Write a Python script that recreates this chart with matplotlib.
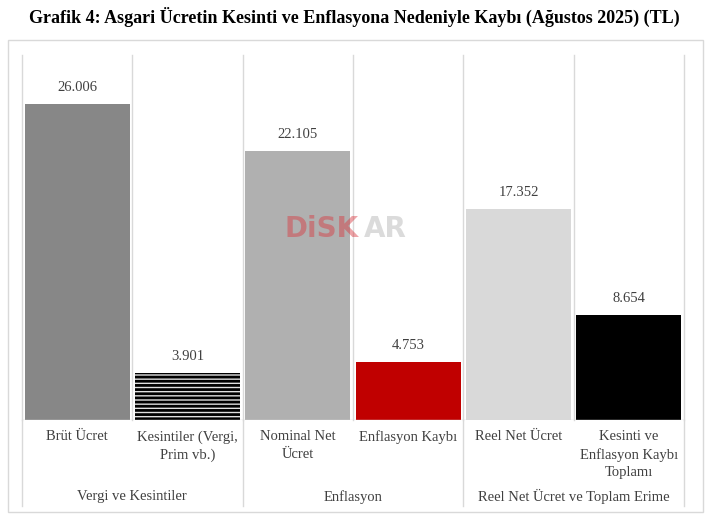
import matplotlib.pyplot as plt
from matplotlib.patches import Rectangle
from matplotlib.lines import Line2D

plt.rcParams['font.family'] = ['Liberation Serif', 'DejaVu Serif']
plt.rcParams['hatch.linewidth'] = 2.0

# data
categories = ['Brüt Ücret', 'Kesintiler (Vergi,\nPrim vb.)', 'Nominal Net\nÜcret',
              'Enflasyon Kaybı', 'Reel Net Ücret', 'Kesinti ve\nEnflasyon Kaybı\nToplamı']
values = [26006, 3901, 22105, 4753, 17352, 8654]
value_labels = ['26.006', '3.901', '22.105', '4.753', '17.352', '8.654']
groups = ['Vergi ve Kesintiler', 'Enflasyon', 'Reel Net Ücret ve Toplam Erime']

colors = ['#878787', '#e0e0e0', '#b0b0b0', '#c00000', '#d9d9d9', '#000000']
hatches = [None, '----', None, None, None, None]

fig = plt.figure(figsize=(7.07, 5.17), dpi=100)
W, H = 707, 517

# outer frame
fig.patches.append(Rectangle((8 / W, 1 - 512 / H), 695 / W, 472 / H, transform=fig.transFigure,
                             fill=False, edgecolor='#d9d9d9', linewidth=1))

fig.text(354 / W, 1 - 17 / H,
         'Grafik 4: Asgari Ücretin Kesinti ve Enflasyona Nedeniyle Kaybı (Ağustos 2025) (TL)',
         ha='center', va='center', fontsize=13, fontweight='bold', color='black')

ax = fig.add_axes([22 / W, 1 - 420 / H, 662 / W, 365 / H])
x = range(len(values))
for i in x:
    ax.bar(i, values[i], width=0.95, color=colors[i], hatch=hatches[i],
           edgecolor='black' if hatches[i] else colors[i], linewidth=0, zorder=2)
    ax.text(i, values[i] + 800, value_labels[i], ha='center', va='bottom',
            fontsize=10.5, color='#404040')

ax.set_xlim(-0.5, 5.5)
ax.set_ylim(0, 30000)
for s in ax.spines.values():
    s.set_visible(False)
ax.set_xticks([])
ax.set_yticks([])

# vertical separators
for b in [-0.5, 0.5, 1.5, 2.5, 3.5, 4.5, 5.5]:
    ax.plot([b, b], [0, 1], color='#d9d9d9', linewidth=1, transform=ax.get_xaxis_transform(),
            zorder=1, clip_on=False)
for b in [-0.5, 1.5, 3.5, 5.5]:
    ax.add_line(Line2D([b, b], [0, -0.235], color='#d9d9d9', linewidth=1,
                       transform=ax.get_xaxis_transform(), clip_on=False))
ax.axhline(0, color='#d9d9d9', linewidth=1, zorder=3)

for i, c in enumerate(categories):
    ax.text(i, -0.028, c, ha='center', va='top', fontsize=10.5, color='#404040',
            linespacing=1.45, transform=ax.get_xaxis_transform())
for g, name in enumerate(groups):
    ax.text(2 * g + 0.5, -0.21, name, ha='center', va='center', fontsize=10.5, color='#404040',
            transform=ax.get_xaxis_transform())

# watermark
fig.text(322 / W, 1 - 229 / H, 'DiSK', ha='center', va='center', fontsize=20,
         fontweight='bold', family='DejaVu Sans', color='#d9363e', alpha=0.45)
fig.text(385 / W, 1 - 229 / H, 'AR', ha='center', va='center', fontsize=20,
         fontweight='bold', family='DejaVu Sans', color='#9a9a9a', alpha=0.35)

fig.savefig('out.png', dpi=100)
